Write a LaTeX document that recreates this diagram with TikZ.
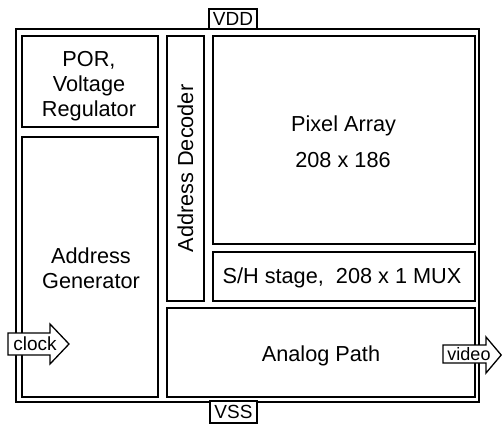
\documentclass[tikz,border=0pt]{standalone}
\usepackage{fontspec}
\setmainfont{Liberation Sans}
\begin{document}
\begin{tikzpicture}[x=1pt,y=-1pt]
\tikzset{
  blk/.style={draw, line width=1.5pt, inner sep=0pt, outer sep=0pt, fill=white},
  outerblk/.style={blk, line width=1.9pt},
  big/.style={font=\fontsize{21.7}{25}\selectfont, align=center, inner sep=0pt},
  small/.style={font=\fontsize{19}{22}\selectfont, inner sep=0pt},
  pinbox/.style={draw, line width=1.3pt, fill=white, inner sep=0pt},
  sig/.style={draw, line width=1.3pt, fill=white, line join=miter}
}
\useasboundingbox (0,0) rectangle (502,424);
% chip outline
\node[outerblk, minimum width=463pt, minimum height=373pt] (chip) at (247.5,215.5) {};
% blocks
\node[blk, minimum width=136pt, minimum height=91pt] (por) at (90,81.5) {};
\node[blk, minimum width=136pt, minimum height=260pt] (agen) at (90,267) {};
\node[blk, minimum width=37pt, minimum height=265pt] (adec) at (185.5,168.5) {};
\node[blk, minimum width=262pt, minimum height=208pt] (pix) at (344,140) {};
\node[blk, minimum width=262pt, minimum height=49pt] (sh) at (344,276.5) {};
\node[blk, minimum width=308pt, minimum height=89pt] (ana) at (321,352.5) {};
% block texts
\node[big, anchor=north] (portxt) at (89,51) {POR,\\Voltage\\Regulator};
\node[big, anchor=north] (agentxt) at (91,247.4) {Address\\Generator};
\node[big, anchor=base, rotate=90] (adectxt) at (193,168.5) {Address Decoder};
\node[big, anchor=base] (pixtxt) at (343.5,131) {Pixel Array};
\node[big, anchor=base] (pixsize) at (343,167) {208 x 186};
\node[big, anchor=base] (shtxt) at (342,283) {S/H stage,\ \ 208 x 1 MUX};
\node[big, anchor=base] (anatxt) at (321,361) {Analog Path};
% supply pins
\node[pinbox, minimum width=48pt, minimum height=20pt] (vdd) at (233,19) {};
\node[small, anchor=base] (vddtxt) at (233,25.8) {VDD};
\node[pinbox, minimum width=47pt, minimum height=22pt] (vss) at (233.5,412) {};
\node[small, anchor=base] (vsstxt) at (233.5,418.5) {VSS};
% signal arrows
\draw[sig] (8,333) -- (50,333) -- (50,324) -- (69,344) -- (50,364) -- (50,355) -- (8,355) -- cycle;
\node[small, anchor=base] (clk) at (35,350) {clock};
\draw[sig] (443,345) -- (486,345) -- (486,337) -- (501.2,355) -- (486,373) -- (486,363) -- (443,363) -- cycle;
\node[small, anchor=base, font=\fontsize{18}{22}\selectfont] (vid) at (469,360) {video};
\end{tikzpicture}
\end{document}
